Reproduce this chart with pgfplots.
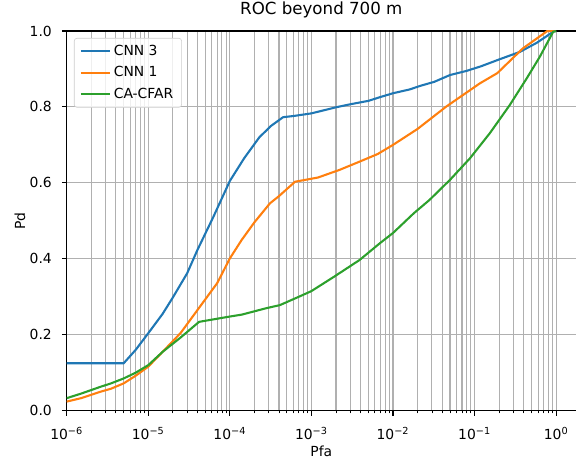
\documentclass[border=0pt]{standalone}
\usepackage{fontspec}
\setmainfont{DejaVu Sans}
\usepackage{pgfplots}
\pgfplotsset{compat=1.18}
\definecolor{tabblue}{HTML}{1F77B4}
\definecolor{taborange}{HTML}{FF7F0E}
\definecolor{tabgreen}{HTML}{2CA02C}
\definecolor{gridgray}{HTML}{B0B0B0}
\definecolor{legedge}{HTML}{CCCCCC}
\begin{document}
\begin{tikzpicture}
\begin{axis}[
  xmode=log,
  scale only axis,
  width=366.7pt, height=273.4pt,
  xmin=1e-6, xmax=1.75,
  ymin=0, ymax=1,
  axis x line*=box,
  axis y line*=left,
  axis line style={black, line width=0.8pt},
  xtick pos=bottom, ytick pos=left,
  tick align=outside,
  major tick length=3.5pt, minor tick length=2pt,
  every tick/.style={black, line width=0.8pt},
  every minor tick/.style={black, line width=0.6pt},
  xtick={1e-6,1e-5,1e-4,1e-3,1e-2,1e-1,1},
  xticklabels={10\textsuperscript{−6},10\textsuperscript{−5},10\textsuperscript{−4},10\textsuperscript{−3},10\textsuperscript{−2},10\textsuperscript{−1},10\textsuperscript{0}},
  ytick={0,0.2,0.4,0.6,0.8,1.0},
  yticklabels={0.0,0.2,0.4,0.6,0.8,1.0},
  minor y tick num=0,
  grid=both,
  major grid style={gridgray, line width=0.8pt},
  minor grid style={gridgray, line width=0.8pt},
  ticklabel style={font=\fontsize{10}{12}\selectfont},
  xticklabel style={anchor=base, inner sep=0pt, yshift=-17.5pt},
  yticklabel style={anchor=east, inner sep=0pt, xshift=-7pt},
  title={ROC beyond 700 m},
  title style={at={(0.5,1.022)}, anchor=base, font=\fontsize{12}{14}\selectfont, inner sep=0pt},
  xlabel={Pfa},
  xlabel style={at={(0.5,-0.121)}, anchor=base, font=\fontsize{10}{12}\selectfont, inner sep=0pt},
  ylabel={Pd},
  ylabel style={at={(-0.0917,0.5)}, anchor=center, rotate=0, font=\fontsize{10}{12}\selectfont, inner sep=0pt},
  legend style={at={(0.0143,0.9816)}, anchor=north west, draw=legedge, fill=white, fill opacity=0.8, text opacity=1, rounded corners=2pt, font=\fontsize{10}{12}\selectfont, row sep=2.5pt, inner xsep=4pt, inner ysep=3pt},
  legend cell align=left,
  legend image code/.code={\draw[#1] (0pt,0pt) -- (21pt,0pt);},
]
\addplot[tabblue, line width=1.5pt] coordinates {
(1e-6,0.125) (5e-6,0.125) (7e-6,0.160) (1e-5,0.204) (1.5e-5,0.255) (2e-5,0.298) (3e-5,0.362) (4e-5,0.423) (6.3e-5,0.511) (1e-4,0.605) (1.5e-4,0.665) (2.3e-4,0.720) (3.2e-4,0.750) (4.5e-4,0.773) (6e-4,0.776) (1e-3,0.783) (2e-3,0.799) (3e-3,0.807) (5e-3,0.816) (7e-3,0.826) (1e-2,0.836) (1.6e-2,0.846) (2.2e-2,0.856) (3.2e-2,0.866) (5e-2,0.884) (8e-2,0.895) (0.12,0.907) (0.2,0.925) (0.36,0.945) (0.58,0.969) (0.92,0.998) (1,1)
};
\addlegendentry{CNN 3}
\addplot[taborange, line width=1.5pt] coordinates {
(1e-6,0.024) (1.5e-6,0.033) (2.6e-6,0.050) (3.5e-6,0.058) (5e-6,0.072) (7e-6,0.092) (1e-5,0.116) (1.5e-5,0.155) (2.5e-5,0.205) (4.3e-5,0.274) (7e-5,0.336) (1e-4,0.401) (1.4e-4,0.450) (2e-4,0.496) (3.1e-4,0.546) (4e-4,0.565) (6.3e-4,0.603) (1.2e-3,0.614) (2.2e-3,0.634) (3.9e-3,0.656) (6.5e-3,0.676) (1e-2,0.700) (2e-2,0.742) (4.5e-2,0.801) (0.116,0.862) (0.19,0.889) (0.39,0.954) (0.78,1.0) (1,1)
};
\addlegendentry{CNN 1}
\addplot[tabgreen, line width=1.5pt] coordinates {
(1e-6,0.033) (1.5e-6,0.045) (2.6e-6,0.063) (3.5e-6,0.072) (5e-6,0.085) (7e-6,0.100) (1e-5,0.120) (1.5e-5,0.155) (2.5e-5,0.193) (4.2e-5,0.234) (1e-4,0.248) (1.4e-4,0.253) (2.8e-4,0.270) (4.1e-4,0.278) (7e-4,0.300) (1e-3,0.315) (1.9e-3,0.353) (3.9e-3,0.397) (6.9e-3,0.441) (1e-2,0.468) (1.8e-2,0.520) (2.8e-2,0.555) (5e-2,0.608) (8.8e-2,0.665) (0.154,0.731) (0.27,0.805) (0.435,0.875) (0.63,0.932) (0.92,0.998) (1,1)
};
\addlegendentry{CA-CFAR}
\end{axis}
\pgfresetboundingbox
\path[use as bounding box] ([xshift=-48pt,yshift=-35.5pt]current axis.south west) rectangle ([yshift=22.3pt]current axis.north east);
\end{tikzpicture}
\end{document}
